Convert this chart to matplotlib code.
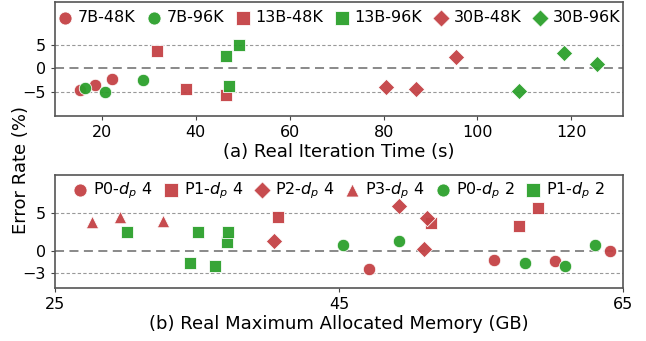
import matplotlib
matplotlib.use("Agg")
import matplotlib.pyplot as plt

RED = "#C44245"
GREEN = "#2CA02C"

# Panel (a): Real Iteration Time (s) vs Error Rate (%)
a_7b48_x = [15.4, 18.6, 22.2]
a_7b48_y = [-4.5, -3.5, -2.2]
a_7b96_x = [16.3, 20.6, 28.8]
a_7b96_y = [-4.2, -5.1, -2.5]
a_13b48_x = [31.8, 37.9, 46.4]
a_13b48_y = [3.7, -4.4, -5.7]
a_13b96_x = [46.4, 49.3, 47.1]
a_13b96_y = [2.6, 5.0, -3.7]
a_30b48_x = [80.5, 87.0, 95.5]
a_30b48_y = [-3.9, -4.3, 2.4]
a_30b96_x = [108.9, 118.4, 125.4]
a_30b96_y = [-4.7, 3.3, 1.0]

# Panel (b): Real Maximum Allocated Memory (GB) vs Error Rate (%)
b_p0d4_x = [47.1, 55.9, 60.2, 64.1]
b_p0d4_y = [-2.4, -1.3, -1.4, -0.1]
b_p1d4_x = [40.7, 51.5, 57.7, 59.0]
b_p1d4_y = [4.4, 3.6, 3.3, 5.6]
b_p2d4_x = [40.4, 49.2, 51.2, 51.0]
b_p2d4_y = [1.2, 5.9, 4.3, 0.2]
b_p3d4_x = [27.6, 29.6, 32.6]
b_p3d4_y = [3.8, 4.5, 3.9]
b_p0d2_x = [45.3, 49.2, 58.1, 60.9, 63.0]
b_p0d2_y = [0.75, 1.3, -1.6, -2.0, 0.7]
b_p1d2_x = [30.1, 35.1, 34.5, 36.3, 37.1, 37.2]
b_p1d2_y = [2.5, 2.4, -1.7, -2.0, 1.1, 2.5]

plt.rcParams["font.family"] = ["DejaVu Sans"]
fig = plt.figure(figsize=(6.46, 3.41), dpi=100)
ax1 = fig.add_axes([55/646, 1 - 115.7/341, 568/646, 113.7/341])
ax2 = fig.add_axes([55/646, 1 - 288.3/341, 568/646, 113.3/341])

ms = 80
kw = dict(s=ms, edgecolors="white", linewidths=0.6, alpha=0.95, zorder=3)

ax1.scatter(a_7b48_x, a_7b48_y, c=RED, marker="o", label="7B-48K", **kw)
ax1.scatter(a_7b96_x, a_7b96_y, c=GREEN, marker="o", label="7B-96K", **kw)
ax1.scatter(a_13b48_x, a_13b48_y, c=RED, marker="s", label="13B-48K", **kw)
ax1.scatter(a_13b96_x, a_13b96_y, c=GREEN, marker="s", label="13B-96K", **kw)
ax1.scatter(a_30b48_x, a_30b48_y, c=RED, marker="D", label="30B-48K", **{**kw, "s": 70})
ax1.scatter(a_30b96_x, a_30b96_y, c=GREEN, marker="D", label="30B-96K", **{**kw, "s": 70})

ax2.scatter(b_p0d4_x, b_p0d4_y, c=RED, marker="o", label="P0-$d_p$ 4", **kw)
ax2.scatter(b_p1d4_x, b_p1d4_y, c=RED, marker="s", label="P1-$d_p$ 4", **kw)
ax2.scatter(b_p2d4_x, b_p2d4_y, c=RED, marker="D", label="P2-$d_p$ 4", **{**kw, "s": 70})
ax2.scatter(b_p3d4_x, b_p3d4_y, c=RED, marker="^", label="P3-$d_p$ 4", **kw)
ax2.scatter(b_p0d2_x, b_p0d2_y, c=GREEN, marker="o", label="P0-$d_p$ 2", **kw)
ax2.scatter(b_p1d2_x, b_p1d2_y, c=GREEN, marker="s", label="P1-$d_p$ 2", **kw)

ax1.set_xlim(10, 131)
ax1.set_ylim(-10, 14)
ax1.set_xticks([20, 40, 60, 80, 100, 120])
ax1.set_yticks([-5, 0, 5])
ax1.axhline(0, color="gray", linestyle=(0, (5, 3)), linewidth=1.3, zorder=1)
for v in (5, -5):
    ax1.axhline(v, color="gray", linestyle=(0, (3, 2)), linewidth=0.8, alpha=0.8, zorder=1)

ax2.set_xlim(25, 65)
ax2.set_ylim(-5, 10)
ax2.set_xticks([25, 45, 65])
ax2.set_yticks([-3, 0, 5])
ax2.axhline(0, color="gray", linestyle=(0, (5, 3)), linewidth=1.3, zorder=1)
for v in (5, -3):
    ax2.axhline(v, color="gray", linestyle=(0, (3, 2)), linewidth=0.8, alpha=0.8, zorder=1)

for ax, yanc in ((ax1, 1.01), (ax2, 1.04)):
    ax.tick_params(labelsize=11.5, length=3, color="#444444")
    for sp in ax.spines.values():
        sp.set_color("#555555")
        sp.set_linewidth(1.2)
    ax.legend(loc="upper center", ncol=6, frameon=False, fontsize=11.5,
              handletextpad=0.35, columnspacing=0.7, handlelength=0.9,
              borderaxespad=0.2, bbox_to_anchor=(0.5, yanc), markerscale=1.05)

ax1.set_xlabel("(a) Real Iteration Time (s)", fontsize=13, labelpad=2)
ax2.set_xlabel("(b) Real Maximum Allocated Memory (GB)", fontsize=13, labelpad=2)
fig.text(21/646, 0.5, "Error Rate (%)", rotation=90, fontsize=13,
         ha="center", va="center")

fig.savefig("out.png", dpi=100)
